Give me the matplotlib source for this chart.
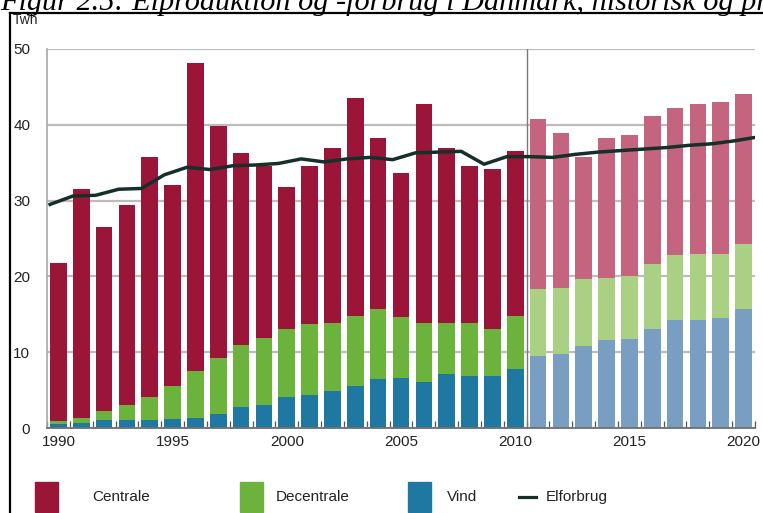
import numpy as np
import matplotlib
matplotlib.use("Agg")
import matplotlib.pyplot as plt
from matplotlib.lines import Line2D
from matplotlib.patches import Rectangle

# Electricity production by source and consumption, TWh
years = np.arange(1990, 2021)
first_forecast_year = 2011

vind = [0.5, 0.7, 1.0, 1.0, 1.0, 1.2, 1.3, 1.9, 2.8, 3.0,
        4.1, 4.3, 4.9, 5.5, 6.5, 6.6, 6.1, 7.1, 6.9, 6.8,
        7.8, 9.5, 9.7, 10.8, 11.6, 11.7, 13.0, 14.2, 14.3, 14.5, 15.7]
decentrale = [0.4, 0.6, 1.2, 2.1, 3.1, 4.4, 6.2, 7.3, 8.1, 8.9,
              8.9, 9.4, 9.0, 9.3, 9.2, 8.0, 7.7, 6.8, 7.0, 6.3,
              7.0, 8.9, 8.8, 8.8, 8.2, 8.3, 8.6, 8.6, 8.7, 8.5, 8.6]
centrale = [20.9, 30.2, 24.3, 26.3, 31.7, 26.5, 40.7, 30.6, 25.4, 22.6,
            18.8, 20.8, 23.1, 28.8, 22.6, 19.1, 29.0, 23.1, 20.6, 21.1,
            21.8, 22.4, 20.4, 16.2, 18.5, 18.7, 19.6, 19.4, 19.8, 20.0, 19.7]

# Consumption series runs one year further, to the right edge of the plot
forbrug_years = np.arange(1990, 2022)
elforbrug = [29.5, 30.6, 30.7, 31.5, 31.6, 33.4, 34.4, 34.1, 34.6, 34.7,
             34.9, 35.5, 35.1, 35.5, 35.7, 35.4, 36.3, 36.4, 36.5, 34.8,
             35.8, 35.8, 35.7, 36.1, 36.4, 36.6, 36.8, 37.0, 37.3, 37.5,
             37.9, 38.4]

series_labels = ["Centrale", "Decentrale", "Vind", "Elforbrug"]
y_ticks = [0, 10, 20, 30, 40, 50]
x_ticks = [1990, 1995, 2000, 2005, 2010, 2015, 2020]

# Colours: strong for history, pale for forecast
col_c = ("#9b1538", "#c4647f")
col_d = ("#6cb33e", "#a9d083")
col_v = ("#1f78a2", "#789fc1")
col_line = "#15302a"

plt.rcParams["font.family"] = ["Liberation Sans", "DejaVu Sans"]

fig = plt.figure(figsize=(7.63, 5.13), dpi=100)
ax = fig.add_axes([47 / 763, 1 - 428 / 513, (755 - 47) / 763, (428 - 49) / 513])

forecast = years >= first_forecast_year
def colours(pair):
    return [pair[1] if f else pair[0] for f in forecast]

v = np.array(vind)
d = np.array(decentrale)
c = np.array(centrale)
w = 0.73
ax.bar(years, v, width=w, color=colours(col_v), zorder=2)
ax.bar(years, d, width=w, bottom=v, color=colours(col_d), zorder=2)
ax.bar(years, c, width=w, bottom=v + d, color=colours(col_c), zorder=2)

ax.plot(forbrug_years - 0.365, elforbrug, color=col_line, lw=2.5,
        solid_joinstyle="round", zorder=4)

ax.axvline(first_forecast_year - 0.5, color="#7a7a7a", lw=1.0, zorder=3)

ax.set_xlim(1989.51, 2020.47)
ax.set_ylim(0, 50)
ax.set_yticks(y_ticks)
ax.set_xticks(x_ticks)
ax.set_xticks(np.arange(1989.5, 2020.6, 1.0), minor=True)
ax.tick_params(axis="y", length=0, pad=12, labelsize=11, colors="#222222")
ax.tick_params(axis="x", which="major", length=0, pad=5, labelsize=11,
               colors="#222222")
ax.tick_params(axis="x", which="minor", direction="in", length=5,
               width=0.9, color="#555555")
ax.grid(axis="y", color="#bcbcbc", lw=1.6, zorder=0)
ax.set_axisbelow(True)
for side in ("top", "right"):
    ax.spines[side].set_visible(False)
ax.spines["left"].set_color("#a8a8a8")
ax.spines["left"].set_linewidth(1.2)
ax.spines["bottom"].set_color("#707070")
ax.spines["bottom"].set_linewidth(1.3)
ax.spines["bottom"].set_zorder(5)

fig.text(13 / 763, 1 - 20 / 513, "Twh", fontsize=10, va="center",
         ha="left", color="#222222")

# Heading, partly above the page edge
fig.text(0.0, 1 - 9.5 / 513,
         "Figur 2.5: Elproduktion og -forbrug i Danmark, historisk og prognose",
         family=["Liberation Serif", "DejaVu Serif"], style="italic",
         fontsize=21.8, va="baseline", ha="left", color="black")

# Page frame
fig.add_artist(Line2D([9.5 / 763, 1.0], [1 - 12.5 / 513, 1 - 12.5 / 513],
                      transform=fig.transFigure, color="black", lw=1.6))
fig.add_artist(Line2D([9.5 / 763, 9.5 / 763], [0.0, 1 - 12.5 / 513],
                      transform=fig.transFigure, color="black", lw=1.6))

# Legend row
leg_y = 1 - 497 / 513
sw, sh = 23 / 763, 30 / 513
entries = [(35, 92, col_c[0]), (240, 276, col_d[0]), (408, 447, col_v[0])]
for (sx, tx, colr), lab in zip(entries, series_labels[:3]):
    fig.add_artist(Rectangle((sx / 763, leg_y - sh / 2), sw, sh,
                             transform=fig.transFigure, color=colr))
    fig.text(tx / 763, leg_y, lab, fontsize=11, va="center", ha="left",
             color="#222222")
fig.add_artist(Line2D([519 / 763, 536 / 763], [leg_y, leg_y],
                      transform=fig.transFigure, color=col_line, lw=2.3))
fig.text(546 / 763, leg_y, series_labels[3], fontsize=11, va="center",
         ha="left", color="#222222")

fig.savefig("out.png", dpi=100)
